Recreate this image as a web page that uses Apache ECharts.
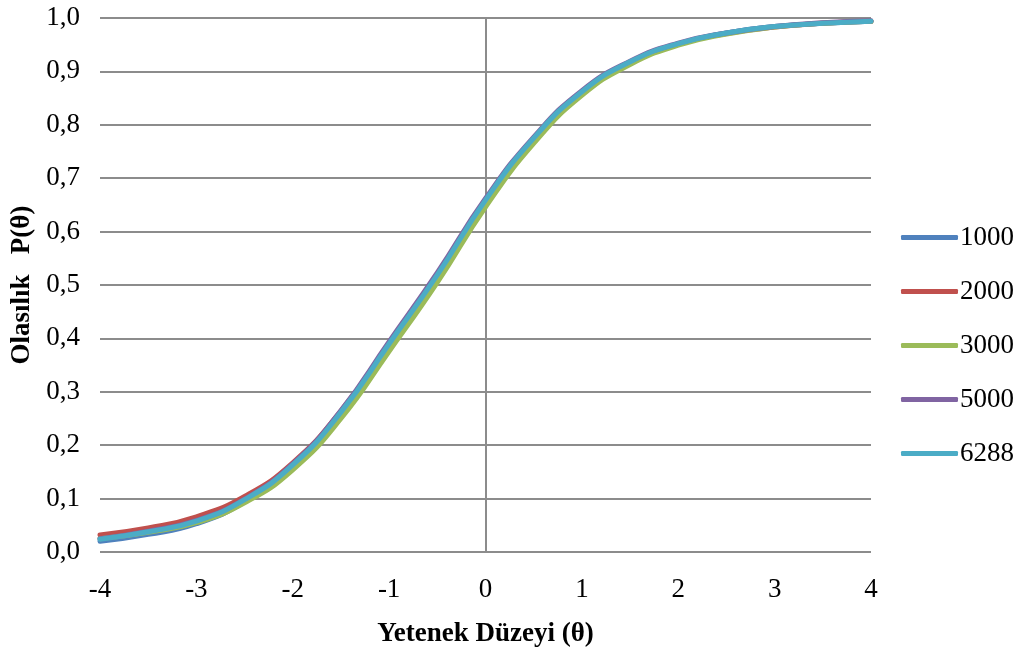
<!DOCTYPE html>
<html><head><meta charset="utf-8">
<script src="https://cdn.jsdelivr.net/npm/echarts@6/dist/echarts.min.js"></script>
<style>html,body{margin:0;padding:0;background:#fff}#c{width:1020px;height:655px}</style>
</head><body><div id="c"></div>
<script>
var theta = [-4,-3.5,-3,-2.5,-2,-1.5,-1,-0.5,0,0.5,1,1.5,2,2.5,3,3.5,4];
var s1000 = [0.020,0.033,0.053,0.094,0.160,0.258,0.386,0.514,0.655,0.772,0.860,0.917,0.951,0.972,0.984,0.990,0.994];
var s2000 = [0.032,0.045,0.066,0.104,0.167,0.264,0.390,0.517,0.656,0.772,0.859,0.916,0.951,0.971,0.983,0.990,0.994];
var s3000 = [0.025,0.037,0.055,0.092,0.154,0.250,0.376,0.505,0.646,0.765,0.855,0.913,0.949,0.970,0.983,0.990,0.994];
var s5000 = [0.025,0.039,0.059,0.099,0.165,0.265,0.394,0.523,0.662,0.777,0.864,0.919,0.953,0.972,0.984,0.991,0.995];
var s6288 = [0.024,0.038,0.058,0.098,0.163,0.262,0.390,0.519,0.659,0.775,0.862,0.918,0.952,0.972,0.984,0.990,0.994];
var seriesNames = ['1000','2000','3000','5000','6288'];
var seriesData = [s1000,s2000,s3000,s5000,s6288];
var colors = ['#4F81BD','#C0504D','#9BBB59','#8064A2','#4BACC6'];
var yTickLabels = ['0,0','0,1','0,2','0,3','0,4','0,5','0,6','0,7','0,8','0,9','1,0'];
var xTickLabels = ['-4','-3','-2','-1','0','1','2','3','4'];
var FONT = '"Times New Roman","Liberation Serif",serif';
var FS = 27;

var series = seriesNames.map(function(n,i){
  var s = {
    name: n, type: 'line', smooth: true, showSymbol: false, symbol: 'none',
    data: theta.map(function(x,j){return [x, seriesData[i][j]];}),
    lineStyle: {width: 5, color: colors[i], cap: 'round'},
    itemStyle: {color: colors[i]},
    z: 3 + i
  };
  if (i === 0) {
    s.markLine = {silent: true, symbol: 'none', label: {show: false},
      lineStyle: {color: '#8c8c8c', width: 2, type: 'solid'},
      data: [{xAxis: 0}], z: 1};
  }
  return s;
});

var chart = echarts.init(document.getElementById('c'));
chart.setOption({
  animation: false,
  color: colors,
  grid: {left: 100, right: 149, top: 18, bottom: 103},
  legend: {
    orient: 'vertical', left: 896, top: 219,
    icon: 'roundRect', itemWidth: 57, itemHeight: 5, itemGap: 27,
    textStyle: {fontFamily: FONT, fontSize: FS, color: '#000', lineHeight: 27, padding: [0,0,0,-3]},
    data: seriesNames
  },
  xAxis: {
    type: 'value', min: -4, max: 4, interval: 1,
    axisLine: {show: false}, axisTick: {show: false},
    splitLine: {show: false},
    axisLabel: {fontFamily: FONT, fontSize: FS, color: '#000', margin: 24,
      formatter: function(v){ return xTickLabels[Math.round(v + 4)]; }},
    name: 'Yetenek Düzeyi (θ)', nameLocation: 'middle', nameGap: 69,
    nameTextStyle: {fontFamily: FONT, fontSize: FS, fontWeight: 'bold', color: '#000'}
  },
  yAxis: {
    type: 'value', min: 0, max: 1, interval: 0.1,
    axisLine: {show: false}, axisTick: {show: false},
    splitLine: {show: true, lineStyle: {color: '#8c8c8c', width: 2}},
    axisLabel: {fontFamily: FONT, fontSize: FS, color: '#000', margin: 20,
      formatter: function(v){ return yTickLabels[Math.round(v * 10)]; }},
    name: 'Olasılık   P(θ)', nameLocation: 'middle', nameGap: 64,
    nameTextStyle: {fontFamily: FONT, fontSize: FS, fontWeight: 'bold', color: '#000'}
  },
  series: series
});
</script></body></html>
